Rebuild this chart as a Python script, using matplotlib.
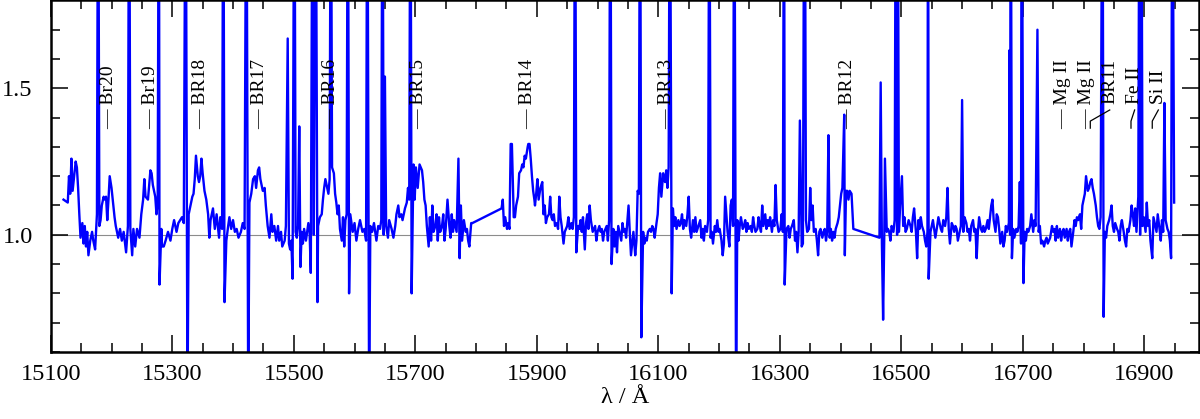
import numpy as np
import matplotlib as mpl
mpl.use("Agg")
import matplotlib.pyplot as plt
from matplotlib.ticker import MultipleLocator, FixedLocator

plt.rcParams['font.family'] = ['Liberation Serif', 'DejaVu Serif']

# normalised spectrum, (wavelength [A], flux); 2.5 / 0.4 = off-scale spikes
spec_a = [
    (15121, 1.12), (15128, 1.11), (15130, 1.20), (15132, 1.14), (15134, 1.26), (15136, 1.15),
    (15138, 1.19), (15141, 1.25), (15143, 1.23), (15145, 1.16), (15147, 1.07), (15149, 0.99),
    (15152, 1.04), (15154, 0.97), (15156, 1.03), (15158, 0.96), (15160, 1.01), (15162, 0.93),
    (15165, 0.98), (15168, 1.01), (15170, 0.98), (15173, 0.95), (15176, 1.07), (15178, 2.5),
    (15180, 1.03), (15182, 1.05), (15184, 1.10), (15187, 1.13), (15189, 1.12), (15191, 1.13),
    (15193, 1.05), (15195, 1.12), (15197, 1.20), (15200, 1.16), (15202, 1.12), (15205, 1.06),
    (15207, 1.03), (15211, 0.99), (15214, 1.02), (15217, 0.98), (15220, 1.01), (15224, 0.94),
    (15227, 1.03), (15229, 2.5), (15231, 1.02), (15234, 0.93), (15236, 1.02), (15239, 0.96),
    (15242, 1.02), (15246, 0.99), (15249, 1.07), (15252, 1.12), (15254, 1.19), (15256, 1.13),
    (15260, 1.12), (15262, 1.17), (15264, 1.22), (15266, 1.21), (15268, 1.17), (15272, 1.13),
    (15274, 1.07), (15276, 1.11), (15278, 2.5), (15279, 0.83), (15282, 1.02), (15283, 0.96),
    (15286, 0.96), (15289, 0.98), (15293, 1.01), (15297, 0.98), (15300, 1.02), (15303, 1.05),
    (15307, 1.01), (15310, 1.04), (15313, 1.05), (15316, 1.06), (15319, 1.04), (15322, 2.5),
    (15325, 0.4), (15327, 1.07), (15330, 1.10), (15333, 1.13), (15335, 1.14), (15337, 1.19),
    (15339, 1.27), (15342, 1.20), (15344, 1.18), (15346, 1.20), (15348, 1.26), (15350, 1.21),
    (15353, 1.15), (15356, 1.12), (15359, 1.07), (15361, 0.99), (15363, 1.05), (15367, 1.09),
    (15370, 1.02), (15373, 1.07), (15377, 0.99), (15379, 1.06), (15382, 1.02), (15384, 2.5),
    (15386, 0.77), (15389, 0.98), (15392, 1.03), (15394, 1.06), (15397, 1.02), (15400, 1.05),
    (15403, 1.01), (15406, 1.02), (15409, 0.99), (15413, 1.01), (15416, 1.04), (15419, 1.02),
    (15422, 2.5), (15425, 0.4), (15427, 1.11), (15430, 1.14), (15433, 1.19), (15436, 1.20),
    (15438, 1.16), (15441, 1.22), (15443, 1.23), (15445, 1.19), (15449, 1.15), (15452, 1.16),
    (15454, 1.10), (15457, 1.03), (15460, 0.99), (15463, 1.07), (15465, 1.01), (15468, 1.03),
    (15471, 0.98), (15474, 1.03), (15476, 0.98), (15479, 1.01), (15481, 0.96), (15485, 0.98),
    (15487, 1.03), (15490, 1.67), (15492, 0.97), (15494, 0.95), (15496, 0.98), (15498, 0.85),
    (15501, 2.5), (15503, 1.01), (15505, 0.99), (15507, 1.03), (15509, 1.37), (15511, 0.89),
]
spec_b = [
    (15513, 1.01), (15515, 0.97), (15517, 1.02), (15520, 0.98), (15522, 1.01), (15524, 1.04),
    (15526, 1.01), (15528, 0.87), (15531, 2.5), (15533, 1.00), (15536, 2.5), (15539, 0.77),
    (15540, 1.03), (15543, 1.06), (15546, 1.07), (15548, 1.12), (15550, 1.16), (15552, 1.19),
    (15555, 1.16), (15557, 1.14), (15559, 1.19), (15561, 2.5), (15563, 1.23), (15566, 1.21),
    (15568, 1.14), (15570, 1.11), (15572, 1.07), (15574, 1.10), (15576, 1.02), (15579, 0.98),
    (15581, 1.06), (15583, 0.96), (15585, 1.05), (15587, 1.07), (15589, 2.5), (15591, 0.80),
    (15593, 1.07), (15595, 1.04), (15597, 1.01), (15600, 1.04), (15603, 0.98), (15606, 1.02),
    (15609, 1.05), (15613, 1.01), (15616, 1.02), (15619, 0.98), (15621, 2.5), (15624, 0.4),
    (15626, 1.03), (15629, 1.01), (15632, 1.04), (15636, 0.98), (15639, 1.03), (15642, 1.02),
    (15644, 1.05), (15646, 2.5), (15648, 1.00), (15650, 1.54), (15652, 1.03), (15655, 0.99),
    (15657, 1.05), (15661, 1.02), (15664, 0.99), (15667, 1.03), (15669, 1.07), (15672, 1.10),
    (15674, 1.06), (15677, 1.07), (15679, 1.05), (15683, 1.09), (15686, 1.11), (15688, 1.16),
    (15690, 1.12), (15692, 2.5), (15694, 0.80), (15697, 1.24), (15699, 1.12), (15701, 1.23),
    (15704, 1.16), (15707, 1.24), (15711, 1.22), (15713, 1.18), (15715, 1.12), (15717, 1.10),
    (15719, 1.03), (15722, 0.96), (15724, 1.06), (15726, 0.98), (15728, 1.10), (15730, 1.01),
    (15733, 1.03), (15735, 1.07), (15737, 0.98), (15739, 1.06), (15741, 1.01), (15744, 1.03),
    (15746, 1.07), (15748, 0.98), (15750, 1.02), (15753, 1.12), (15756, 1.03), (15758, 0.99),
    (15760, 1.07), (15762, 1.01), (15764, 1.05), (15768, 1.01), (15771, 1.26), (15773, 0.92),
    (15775, 1.10), (15777, 0.98), (15780, 1.05), (15783, 1.01), (15785, 1.02), (15787, 0.98),
    (15789, 0.96), (15792, 1.04), (15794, 1.04),
]
spec_c = [
    (15842, 1.09), (15844, 1.12), (15846, 1.03), (15848, 1.06), (15851, 1.02), (15853, 1.04),
    (15855, 1.02), (15857, 1.31), (15859, 1.31), (15862, 1.06), (15864, 1.06), (15866, 1.10),
    (15869, 1.13), (15871, 1.21), (15874, 1.22), (15876, 1.24), (15878, 1.23), (15880, 1.27),
    (15882, 1.26), (15885, 1.30), (15886, 1.31), (15888, 1.31), (15890, 1.26), (15892, 1.20),
    (15894, 1.15), (15896, 1.12), (15897, 1.10), (15899, 1.14), (15901, 1.19), (15903, 1.12),
    (15906, 1.16), (15909, 1.18), (15911, 1.07), (15913, 1.10), (15915, 1.04), (15917, 1.06),
    (15920, 1.07), (15922, 1.13), (15924, 1.06), (15926, 1.05), (15928, 1.07), (15930, 1.03),
    (15933, 1.04), (15935, 1.02), (15937, 1.13), (15939, 1.06), (15941, 1.03), (15944, 0.97),
    (15946, 1.01), (15948, 1.02), (15950, 1.03), (15952, 1.06), (15954, 1.02), (15957, 1.04),
    (15959, 1.02), (15961, 1.06), (15963, 2.5), (15965, 0.94), (15968, 1.03), (15970, 1.02),
    (15972, 1.05), (15974, 1.01), (15976, 1.06), (15979, 0.95), (15981, 1.04), (15983, 1.07),
    (15985, 1.02), (15987, 1.10), (15989, 1.05), (15992, 1.01), (15994, 1.02), (15996, 1.03),
    (15998, 0.98), (16000, 1.01), (16003, 1.03), (16005, 1.01), (16007, 1.02), (16009, 0.98),
    (16011, 1.01), (16015, 1.03), (16017, 0.98), (16019, 1.05), (16021, 2.5), (16023, 0.90),
    (16026, 1.02), (16028, 0.96), (16030, 1.01), (16032, 0.94), (16034, 1.03), (16036, 1.01),
    (16039, 0.98), (16041, 1.04), (16043, 1.01), (16045, 1.02), (16047, 0.99), (16051, 1.10),
    (16053, 1.01), (16055, 0.93), (16057, 0.97), (16059, 1.01), (16062, 0.93), (16064, 0.98),
    (16066, 1.15), (16068, 1.14), (16070, 2.5), (16072, 0.65), (16075, 1.01), (16077, 0.97),
    (16079, 0.99), (16081, 0.98), (16083, 1.01), (16086, 1.02), (16088, 1.01), (16090, 1.03),
    (16092, 1.02), (16094, 0.99), (16097, 1.04), (16099, 1.07), (16101, 1.16), (16103, 1.21),
    (16105, 1.13), (16108, 1.21), (16111, 1.18), (16113, 1.22), (16115, 1.16), (16117, 1.23),
    (16119, 2.5), (16122, 0.80), (16124, 1.09), (16126, 1.03), (16128, 1.06), (16130, 1.02),
    (16133, 1.05), (16135, 1.03), (16137, 1.04), (16139, 1.07), (16141, 1.02), (16143, 1.05),
    (16146, 1.03), (16148, 1.07), (16150, 1.13), (16152, 1.02), (16154, 0.99), (16157, 1.05),
    (16159, 1.01), (16161, 1.06), (16163, 1.01), (16166, 1.03), (16169, 1.05), (16171, 0.99),
    (16173, 1.02), (16175, 0.98), (16177, 1.03), (16180, 1.01), (16182, 1.05), (16184, 2.5),
    (16186, 0.99), (16188, 1.01), (16190, 0.97), (16193, 1.03), (16195, 1.01), (16197, 1.05),
    (16199, 1.01), (16201, 1.02), (16204, 0.98), (16206, 0.93), (16208, 0.97), (16210, 1.13),
    (16212, 1.07), (16214, 1.01), (16217, 0.96), (16219, 1.10), (16221, 1.12), (16223, 1.03),
    (16225, 2.5), (16228, 0.4), (16230, 1.05), (16232, 0.98), (16234, 1.03), (16236, 1.06),
    (16239, 1.02), (16241, 1.03), (16243, 1.05), (16245, 1.01), (16247, 1.04), (16249, 1.02),
    (16252, 1.03), (16254, 1.01), (16256, 1.06), (16258, 1.03), (16260, 1.01), (16263, 1.02),
    (16265, 1.06), (16267, 1.03), (16269, 1.01), (16271, 1.10), (16273, 1.03), (16276, 1.07),
    (16278, 1.02), (16280, 1.05), (16282, 1.03), (16284, 1.06), (16287, 1.01), (16289, 1.05),
    (16291, 1.03), (16293, 1.17), (16295, 1.05), (16298, 1.01),
]
spec_d = [
    (16301, 1.02), (16303, 1.07), (16305, 1.01), (16307, 2.5), (16308, 0.83), (16311, 1.02),
    (16314, 1.03), (16316, 0.99), (16318, 1.02), (16320, 1.03), (16323, 1.05), (16325, 0.98),
    (16327, 1.01), (16329, 0.94), (16331, 1.01), (16333, 1.39), (16336, 0.96), (16338, 0.97),
    (16339, 1.69), (16341, 2.5), (16343, 1.05), (16345, 1.01), (16348, 1.02), (16350, 1.16),
    (16352, 1.05), (16354, 1.10), (16356, 1.01), (16359, 1.02), (16361, 0.98), (16363, 0.93),
    (16365, 1.01), (16367, 1.02), (16370, 0.99), (16372, 1.01), (16374, 1.02), (16376, 0.98),
    (16378, 1.01), (16380, 1.34), (16382, 0.99), (16384, 1.02), (16386, 0.98), (16388, 1.01),
    (16390, 0.99), (16392, 1.02), (16395, 1.04), (16397, 1.06), (16399, 1.10), (16401, 1.14),
    (16403, 1.16), (16406, 1.41), (16407, 0.93), (16409, 1.15), (16411, 1.15), (16413, 1.12),
    (16415, 1.15), (16418, 1.14), (16421, 1.02),
    (16464, 0.99), (16466, 1.52), (16468, 0.97), (16470, 0.71), (16472, 1.01), (16473, 1.26),
    (16476, 1.01), (16478, 1.02), (16480, 1.01), (16482, 0.98), (16484, 1.03), (16487, 1.01),
    (16489, 1.05), (16491, 2.5), (16493, 1.00), (16494, 2.5), (16496, 1.01), (16498, 1.10),
    (16501, 1.20), (16503, 1.03), (16505, 1.06), (16507, 1.01), (16509, 1.02), (16512, 1.05),
    (16515, 1.03), (16517, 1.01), (16519, 1.06), (16521, 1.09), (16524, 1.01), (16526, 0.92),
    (16528, 1.05), (16530, 1.02), (16532, 1.06), (16534, 1.03), (16537, 1.01), (16539, 0.98),
    (16541, 0.96), (16543, 1.01), (16544, 2.5), (16545, 0.85), (16548, 1.01), (16550, 1.03),
    (16552, 1.05), (16554, 1.02), (16556, 0.99), (16559, 1.03), (16561, 1.06), (16563, 1.04),
    (16565, 1.02), (16567, 1.01), (16569, 1.05), (16572, 1.03), (16574, 1.06), (16576, 1.16),
    (16578, 1.02), (16580, 0.97), (16583, 1.04), (16585, 1.03), (16587, 1.01), (16589, 1.03),
    (16591, 1.02), (16593, 0.98), (16596, 1.01), (16598, 1.03), (16600, 1.46), (16602, 1.01),
    (16604, 1.06), (16607, 1.04), (16609, 1.01), (16611, 1.02), (16613, 0.98), (16615, 1.03),
    (16618, 1.05), (16620, 1.01), (16622, 1.02), (16624, 0.92), (16626, 1.01), (16628, 1.06),
    (16631, 1.02), (16633, 1.01), (16635, 1.03), (16637, 1.01), (16639, 1.02), (16642, 1.05),
    (16644, 1.02), (16646, 1.06), (16648, 1.10), (16650, 1.12), (16652, 1.05), (16655, 1.01),
    (16657, 1.07), (16659, 1.06), (16661, 1.02), (16663, 0.97), (16666, 1.01), (16668, 0.96),
    (16670, 0.98), (16672, 1.03), (16674, 1.01), (16677, 1.04), (16678, 1.63), (16679, 1.00),
    (16680, 2.5), (16682, 0.92),
]
spec_e = [
    (16684, 1.02), (16686, 0.99), (16689, 1.02), (16691, 1.01), (16693, 1.03), (16695, 1.18),
    (16697, 0.97), (16698, 2.5), (16701, 0.835), (16703, 1.01), (16705, 0.98), (16707, 1.02),
    (16709, 1.01), (16712, 1.03), (16714, 1.07), (16717, 1.01), (16719, 1.05), (16721, 1.03),
    (16724, 1.70), (16726, 1.01), (16728, 1.03), (16730, 0.97), (16732, 0.98), (16735, 0.96),
    (16737, 0.98), (16739, 0.99), (16741, 0.97), (16743, 0.98), (16745, 0.99), (16748, 1.03),
    (16750, 1.01), (16752, 1.02), (16754, 0.98), (16756, 1.03), (16758, 0.99), (16761, 1.02),
    (16763, 0.98), (16765, 1.01), (16767, 1.02), (16769, 0.99), (16772, 1.02), (16774, 0.98),
    (16776, 1.01), (16778, 1.02), (16780, 0.96), (16783, 1.01), (16785, 1.05), (16787, 1.03),
    (16789, 1.06), (16791, 1.05), (16794, 1.07), (16796, 1.02), (16798, 1.10), (16800, 1.12),
    (16802, 1.14), (16804, 1.20), (16807, 1.15), (16809, 1.16), (16811, 1.18), (16813, 1.19),
    (16815, 1.16), (16817, 1.14), (16820, 1.10), (16822, 1.06), (16824, 1.03), (16826, 1.02),
    (16828, 1.06), (16831, 2.5), (16833, 0.72), (16835, 1.01), (16837, 0.99), (16839, 1.03),
    (16842, 1.05), (16844, 1.07), (16846, 1.10), (16848, 1.03), (16850, 1.01), (16852, 1.04),
    (16855, 1.02), (16857, 1.01), (16859, 0.98), (16861, 1.03), (16863, 1.05), (16866, 1.01),
    (16868, 0.98), (16870, 0.96), (16872, 1.02), (16874, 1.01), (16877, 1.05), (16879, 1.10),
    (16881, 1.07), (16883, 1.03), (16885, 1.09), (16887, 1.01), (16890, 1.13), (16892, 2.5),
    (16893, 1.00), (16895, 2.5), (16897, 1.03), (16899, 1.06), (16902, 1.01), (16904, 1.11),
    (16906, 1.03), (16908, 1.05), (16910, 0.98), (16913, 0.92), (16915, 1.06), (16918, 1.03),
    (16920, 1.01), (16922, 1.07), (16925, 1.02), (16927, 0.98), (16929, 1.05), (16931, 1.01),
    (16933, 1.45), (16935, 1.05), (16938, 1.02), (16940, 1.01), (16942, 0.98), (16944, 0.92),
    (16946, 2.5), (16949, 1.11),
]

# line identifications with a plain dash marker
dash_names = ['Br20', 'Br19', 'BR18', 'BR17', 'BR16', 'BR15', 'BR14', 'BR13', 'BR12',
              'Mg II', 'Mg II']
dash_waves = [15196, 15264, 15346, 15443, 15560, 15705, 15885, 16114, 16412, 16765, 16805]

# line identifications with a bent leader (label position, line position)
lead_names = ['BR11', 'Fe II', 'Si II']
lead_label = [16843, 16884, 16923]
lead_line = [16811, 16878, 16913]

spec = spec_a + spec_b + spec_c + spec_d + spec_e
wave = np.array([p[0] for p in spec], dtype=float)
flux = np.array([p[1] for p in spec])

fig = plt.figure(figsize=(12, 4.19), dpi=100)
ax = fig.add_axes([0.0423, 0.160, 0.9569, 0.839])

ax.axhline(1.0, color='0.55', lw=0.8, zorder=1)
ax.plot(wave, flux, color='#0000ff', lw=1.7, zorder=2)

ax.set_xlim(15100, 16990)
ax.set_ylim(0.6, 1.8)

ax.xaxis.set_major_locator(FixedLocator(np.arange(15100, 17000, 200)))
ax.xaxis.set_minor_locator(MultipleLocator(50))
ax.yaxis.set_major_locator(FixedLocator([1.0, 1.5]))
ax.yaxis.set_minor_locator(MultipleLocator(0.1))
ax.tick_params(which='both', direction='in', top=True, right=True, width=1.1)
ax.tick_params(which='major', length=12)
ax.tick_params(which='minor', length=6.5)
ax.tick_params(axis='x', labelsize=17.5, pad=9)
ax.tick_params(axis='y', labelsize=17.5, pad=13)
for s in ax.spines.values():
    s.set_linewidth(1.8)

ax.set_xlabel('λ / Å', fontsize=17.5, labelpad=1)

for name, w in zip(dash_names, dash_waves):
    ax.text(w, 1.362, '— ' + name, rotation=90, ha='center', va='bottom',
            fontsize=14, zorder=3)

for name, wl, wk in zip(lead_names, lead_label, lead_line):
    ax.text(wl, 1.445, name, rotation=90, ha='center', va='bottom',
            fontsize=14, zorder=3)
    ax.plot([wl, wk, wk], [1.426, 1.388, 1.364], color='k', lw=0.9, zorder=3)

plt.savefig('out.png', dpi=100)
